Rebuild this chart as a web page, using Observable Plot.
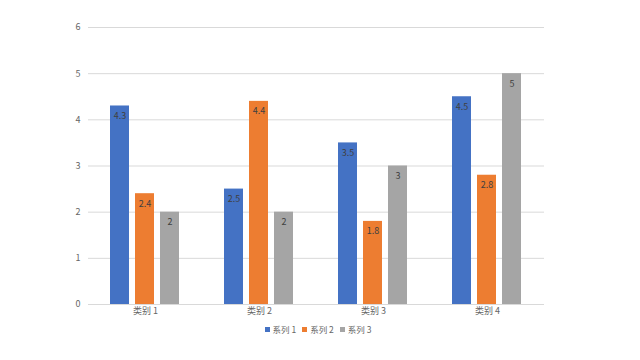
<!DOCTYPE html>
<html><head><meta charset="utf-8">
<script src="https://cdn.jsdelivr.net/npm/d3@7"></script>
<script src="https://cdn.jsdelivr.net/npm/@observablehq/plot@0.6"></script>
<style>
body{margin:0;background:#fff;font-family:"Noto Sans CJK SC","Noto Sans",sans-serif;}
#legend{display:flex;justify-content:center;gap:6px;font-size:8.5px;color:#666;margin-left:-4px;margin-top:1px;}
#legend span.sw{display:inline-block;width:5px;height:5px;margin-right:3px;vertical-align:1px;}
</style></head>
<body>
<div id="chart"></div>
<div id="legend"></div>
<script>
const categories = ["类别 1", "类别 2", "类别 3", "类别 4"];
const seriesNames = ["系列 1", "系列 2", "系列 3"];
const series1 = [4.3, 2.5, 3.5, 4.5];
const series2 = [2.4, 4.4, 1.8, 2.8];
const series3 = [2, 2, 3, 5];
const colors = ["#4472C4", "#ED7D31", "#A5A5A5"];
const yTicks = [0, 1, 2, 3, 4, 5, 6];

const allSeries = [series1, series2, series3];
const rows = [];
categories.forEach((c, i) => {
  seriesNames.forEach((s, j) => rows.push({cat: c, series: s, value: allSeries[j][i]}));
});

const chart = Plot.plot({
  width: 640,
  height: 322,
  marginTop: 27,
  marginBottom: 18,
  marginLeft: 87,
  marginRight: 95,
  style: {fontFamily: '"Noto Sans CJK SC", sans-serif', fontSize: "9px", color: "#666", background: "#fff"},
  facet: {data: rows, x: "cat", marginTop: 0, marginBottom: 18, marginLeft: 0, marginRight: 0, label: null},
  fx: {domain: categories, padding: 0, label: null, tickSize: 0, tickPadding: 3},
  x: {domain: seriesNames, paddingInner: 0.23, paddingOuter: 0.817, axis: null},
  y: {domain: [0, 6], ticks: yTicks, tickFormat: d3.format("d"), tickSize: 0, tickPadding: 8, label: null},
  color: {domain: seriesNames, range: colors},
  marks: [
    Plot.ruleY(yTicks, {stroke: "#d9d9d9", strokeWidth: 1}),
    Plot.barY(rows, {x: "series", y: "value", fill: "series"}),
    Plot.text(rows, {x: "series", y: "value", text: d => String(d.value), dy: 10, fill: "#404040", fontSize: 9})
  ]
});
document.getElementById("chart").appendChild(chart);

const legend = document.getElementById("legend");
seriesNames.forEach((s, i) => {
  const item = document.createElement("span");
  item.innerHTML = `<span class="sw" style="background:${colors[i]}"></span>${s}`;
  legend.appendChild(item);
});
</script>
</body></html>
